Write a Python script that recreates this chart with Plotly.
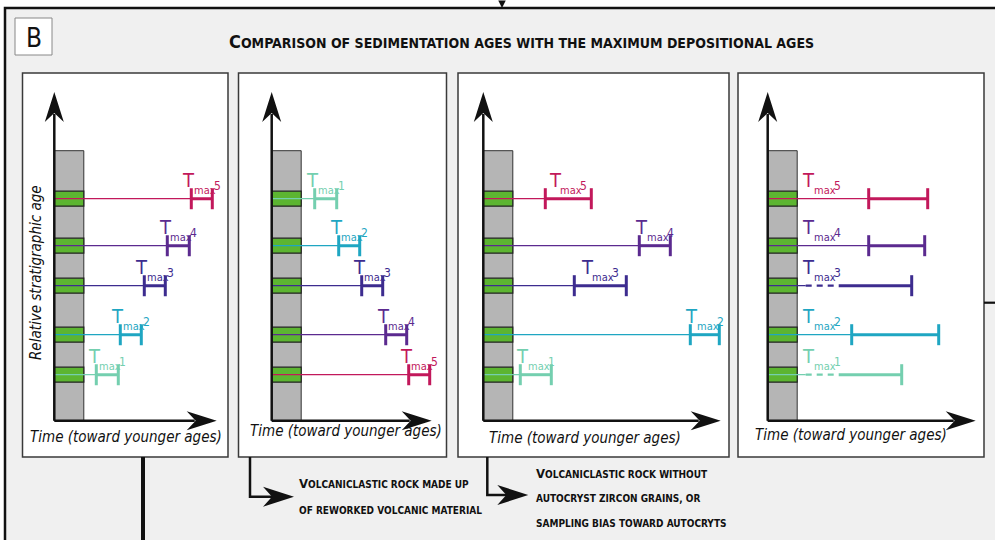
import plotly.graph_objects as go

W, H = 995, 540
FONT = "DejaVu Sans Condensed, Liberation Sans Narrow, Roboto, sans-serif"

# ---- data ---------------------------------------------------------------
# stratigraphic position of the five volcanic (green) layers, bottom to top
layer_y = [46, 86, 135, 175, 222]
column_top = 270
tmax_names = ["1", "2", "3", "4", "5"]
tmax_colors = ["#74CFAF", "#1FA6C2", "#3D2C8F", "#5B2A8F", "#C2185B"]

# scenario 1: ideal case, Tmax increases upward
p1_layer = [0, 1, 2, 3, 4]
p1_lo = [42, 66, 90, 113, 137]
p1_hi = [64, 87, 111, 135, 158]

# scenario 2: reworked volcanic material, order inverted
p2_layer = [4, 3, 2, 1, 0]
p2_lo = [43, 67, 90, 114, 137]
p2_hi = [65, 88, 111, 135, 158]

# scenario 3: no autocrysts / sampling bias
p3_layer = [0, 1, 2, 3, 4]
p3_lo = [37, 207, 91, 156, 62]
p3_hi = [68, 236, 143, 187, 108]

# scenario 4: wide uncertainties, some lower bounds unresolved
p4_layer = [0, 1, 2, 3, 4]
p4_lo = [71, 84, 71, 101, 101]
p4_hi = [134, 171, 144, 157, 160]
p4_open = [True, False, True, False, False]

# ---- panel geometry (pixels) ---------------------------------------------
TOP, BOTTOM, OY, TIP_Y = 73, 457, 420.7, 92
panels = [
    dict(left=22.5, right=228, ox=54.3, tip=216.7, layer=p1_layer, lo=p1_lo, hi=p1_hi,
         open=[False] * 5, lab=None, time=(72, -16)),
    dict(left=238.5, right=446.5, ox=271.7, tip=431.7, layer=p2_layer, lo=p2_lo, hi=p2_hi,
         open=[False] * 5, lab=None, time=(74, -10)),
    dict(left=458, right=729, ox=483.3, tip=720.7, layer=p3_layer, lo=p3_lo, hi=p3_hi,
         open=[False] * 5, lab=None, time=(102, -17)),
    dict(left=738, right=984, ox=767.7, tip=975.7, layer=p4_layer, lo=p4_lo, hi=p4_hi,
         open=p4_open, lab=41, time=(83, -14)),
]


def fx(px):
    return px / W


def fy(py):
    return 1 - py / H


def pp(px, py):
    return f"{fx(px):.5f},{fy(py):.5f}"


def note(x, y, text, size, anchor="center", **kw):
    return dict(xref="paper", yref="paper", x=fx(x), y=fy(y), text=text, showarrow=False,
                xanchor=anchor, yanchor="middle", font=dict(family=FONT, size=size, color="#111"), **kw)


fig = go.Figure()
shapes = []
annotations = []

# outer frame
shapes.append(dict(type="rect", xref="paper", yref="paper", x0=fx(5), x1=1.02, y0=-0.02, y1=fy(8),
                   fillcolor="#F0F0F0", line=dict(color="#111", width=2.5), layer="below"))
# panel label box
shapes.append(dict(type="rect", xref="paper", yref="paper", x0=fx(15), x1=fx(52), y0=fy(55), y1=fy(18),
                   fillcolor="white", line=dict(color="#888", width=1), layer="below"))
annotations.append(note(34, 38, "B", 26))
annotations.append(note(
    521, 42,
    "<b><span style='font-size:18px'>C</span>OMPARISON OF SEDIMENTATION AGES WITH THE MAXIMUM DEPOSITIONAL AGES</b>",
    14))
# little arrow entering from above
annotations.append(dict(xref="paper", yref="paper", x=fx(502), y=fy(8), ax=0, ay=-10, text="",
                        showarrow=True, arrowhead=2, arrowwidth=1.5, arrowcolor="#111"))
# link to the right
shapes.append(dict(type="line", xref="paper", yref="paper", x0=fx(984), x1=1.0, y0=fy(302.7), y1=fy(302.7),
                   line=dict(color="#111", width=2.2)))

for i, p in enumerate(panels, start=1):
    xa = "x" if i == 1 else f"x{i}"
    ya = "y" if i == 1 else f"y{i}"
    fig.layout[f"xaxis{'' if i == 1 else i}"] = dict(
        domain=[fx(p["left"]), fx(p["right"])], range=[p["left"] - p["ox"], p["right"] - p["ox"]],
        visible=False, anchor=ya, fixedrange=True)
    fig.layout[f"yaxis{'' if i == 1 else i}"] = dict(
        domain=[fy(BOTTOM), fy(TOP)], range=[OY - BOTTOM, OY - TOP],
        visible=False, anchor=xa, fixedrange=True)

    shapes.append(dict(type="rect", xref="paper", yref="paper", x0=fx(p["left"]), x1=fx(p["right"]),
                       y0=fy(BOTTOM), y1=fy(TOP), fillcolor="white", line=dict(color="#3a3a3a", width=1.5),
                       layer="below"))

    # stratigraphic column
    shapes.append(dict(type="rect", xref=xa, yref=ya, x0=0, x1=29.5, y0=0, y1=column_top,
                       fillcolor="#B5B5B5", line=dict(color="#333", width=1), layer="below"))
    for ly in layer_y:
        shapes.append(dict(type="rect", xref=xa, yref=ya, x0=0, x1=29.5, y0=ly - 7.5, y1=ly + 7.5,
                           fillcolor="#5CB531", line=dict(color="#222", width=1.2), layer="below"))

    # axes with arrows
    ty = OY - TIP_Y
    tx = p["tip"] - p["ox"]
    shapes.append(dict(type="line", xref=xa, yref=ya, x0=0, x1=0, y0=0, y1=ty - 22,
                       line=dict(color="#111", width=2.5)))
    shapes.append(dict(type="line", xref=xa, yref=ya, x0=0, x1=tx - 22, y0=0, y1=0,
                       line=dict(color="#111", width=2.5)))
    shapes.append(dict(type="path", xref=xa, yref=ya, fillcolor="#111", line=dict(width=0),
                       path=f"M 0,{ty} L 9.5,{ty - 30} L 0,{ty - 21} L -9.5,{ty - 30} Z"))
    shapes.append(dict(type="path", xref=xa, yref=ya, fillcolor="#111", line=dict(width=0),
                       path=f"M {tx},0 L {tx - 30},9.5 L {tx - 21},0 L {tx - 30},-9.5 Z"))

    annotations.append(dict(xref=xa, yref=ya, x=p["time"][0], y=p["time"][1], showarrow=False,
                            text="Time (toward younger ages)",
                            font=dict(family=FONT, size=15, color="#111", style="italic")))
    if i == 1:
        annotations.append(dict(xref=xa, yref=ya, x=-19, y=148, showarrow=False, textangle=-90,
                                text="Relative stratigraphic age",
                                font=dict(family=FONT, size=15, color="#111", style="italic")))

    for k in range(5):
        c = tmax_colors[k]
        y = layer_y[p["layer"][k]]
        lo, hi = p["lo"][k], p["hi"][k]
        if p["open"][k]:
            fig.add_trace(go.Scatter(x=[0, 38], y=[y, y], mode="lines", xaxis=xa, yaxis=ya,
                                     line=dict(color=c, width=1.3), hoverinfo="skip"))
            fig.add_trace(go.Scatter(x=[38, lo], y=[y, y], mode="lines", xaxis=xa, yaxis=ya,
                                     line=dict(color=c, width=2.2, dash="6px,5px"), hoverinfo="skip"))
            ticks = [hi]
        else:
            fig.add_trace(go.Scatter(x=[0, lo], y=[y, y], mode="lines", xaxis=xa, yaxis=ya,
                                     line=dict(color=c, width=1.3), hoverinfo="skip"))
            ticks = [lo, hi]
        fig.add_trace(go.Scatter(x=[lo, hi], y=[y, y], mode="lines", xaxis=xa, yaxis=ya,
                                 line=dict(color=c, width=3), hoverinfo="skip"))
        fig.add_trace(go.Scatter(x=ticks, y=[y] * len(ticks), mode="markers", xaxis=xa, yaxis=ya,
                                 marker=dict(symbol="line-ns", size=15, line=dict(color=c, width=3)),
                                 hoverinfo="skip"))

        tcx = p["lab"] if p["lab"] is not None else (lo + hi) / 2 - 13
        annotations.append(dict(xref=xa, yref=ya, x=tcx, y=y + 19, text="T", showarrow=False,
                                font=dict(family=FONT, size=20, color=c)))
        annotations.append(dict(xref=xa, yref=ya, x=tcx + 3, y=y + 8, text="max", showarrow=False,
                                xanchor="left", font=dict(family=FONT, size=11, color=c)))
        annotations.append(dict(xref=xa, yref=ya, x=tcx + 23, y=y + 13, text=tmax_names[k],
                                showarrow=False, xanchor="left", font=dict(family=FONT, size=12, color=c)))

# connectors under the panels
shapes.append(dict(type="line", xref="paper", yref="paper", x0=fx(143), x1=fx(143), y0=fy(457), y1=-0.02,
                   line=dict(color="#111", width=4)))
for vx, hy, tip in [(250, 496.7, 294), (487.3, 495, 528.3)]:
    shapes.append(dict(type="path", xref="paper", yref="paper", line=dict(color="#111", width=2.5),
                       path=f"M {pp(vx, 457)} L {pp(vx, hy)} L {pp(tip - 20, hy)}"))
    shapes.append(dict(type="path", xref="paper", yref="paper", fillcolor="#111", line=dict(width=0),
                       path=f"M {pp(tip, hy)} L {pp(tip - 31, hy - 10)} L {pp(tip - 22, hy)} "
                            f"L {pp(tip - 31, hy + 10)} Z"))

notes = [
    (297, 483.3, "<span style='font-size:13px'>V</span>OLCANICLASTIC ROCK MADE UP"),
    (297, 510, "OF REWORKED VOLCANIC MATERIAL"),
    (533.5, 473.3, "<span style='font-size:13px'>V</span>OLCANICLASTIC ROCK WITHOUT"),
    (533.5, 498.3, "AUTOCRYST ZIRCON GRAINS, OR"),
    (533.5, 523.3, "SAMPLING BIAS TOWARD AUTOCRYTS"),
]
for nx, ny, txt in notes:
    annotations.append(note(nx, ny, f"<b>{txt}</b>", 10, anchor="left"))

fig.update_layout(
    width=W, height=H, margin=dict(l=0, r=0, t=0, b=0),
    paper_bgcolor="white", plot_bgcolor="rgba(0,0,0,0)",
    showlegend=False, shapes=shapes, annotations=annotations,
)
fig.write_html("out.html", config={"displayModeBar": False},
               post_script="document.body.style.margin='0';")
